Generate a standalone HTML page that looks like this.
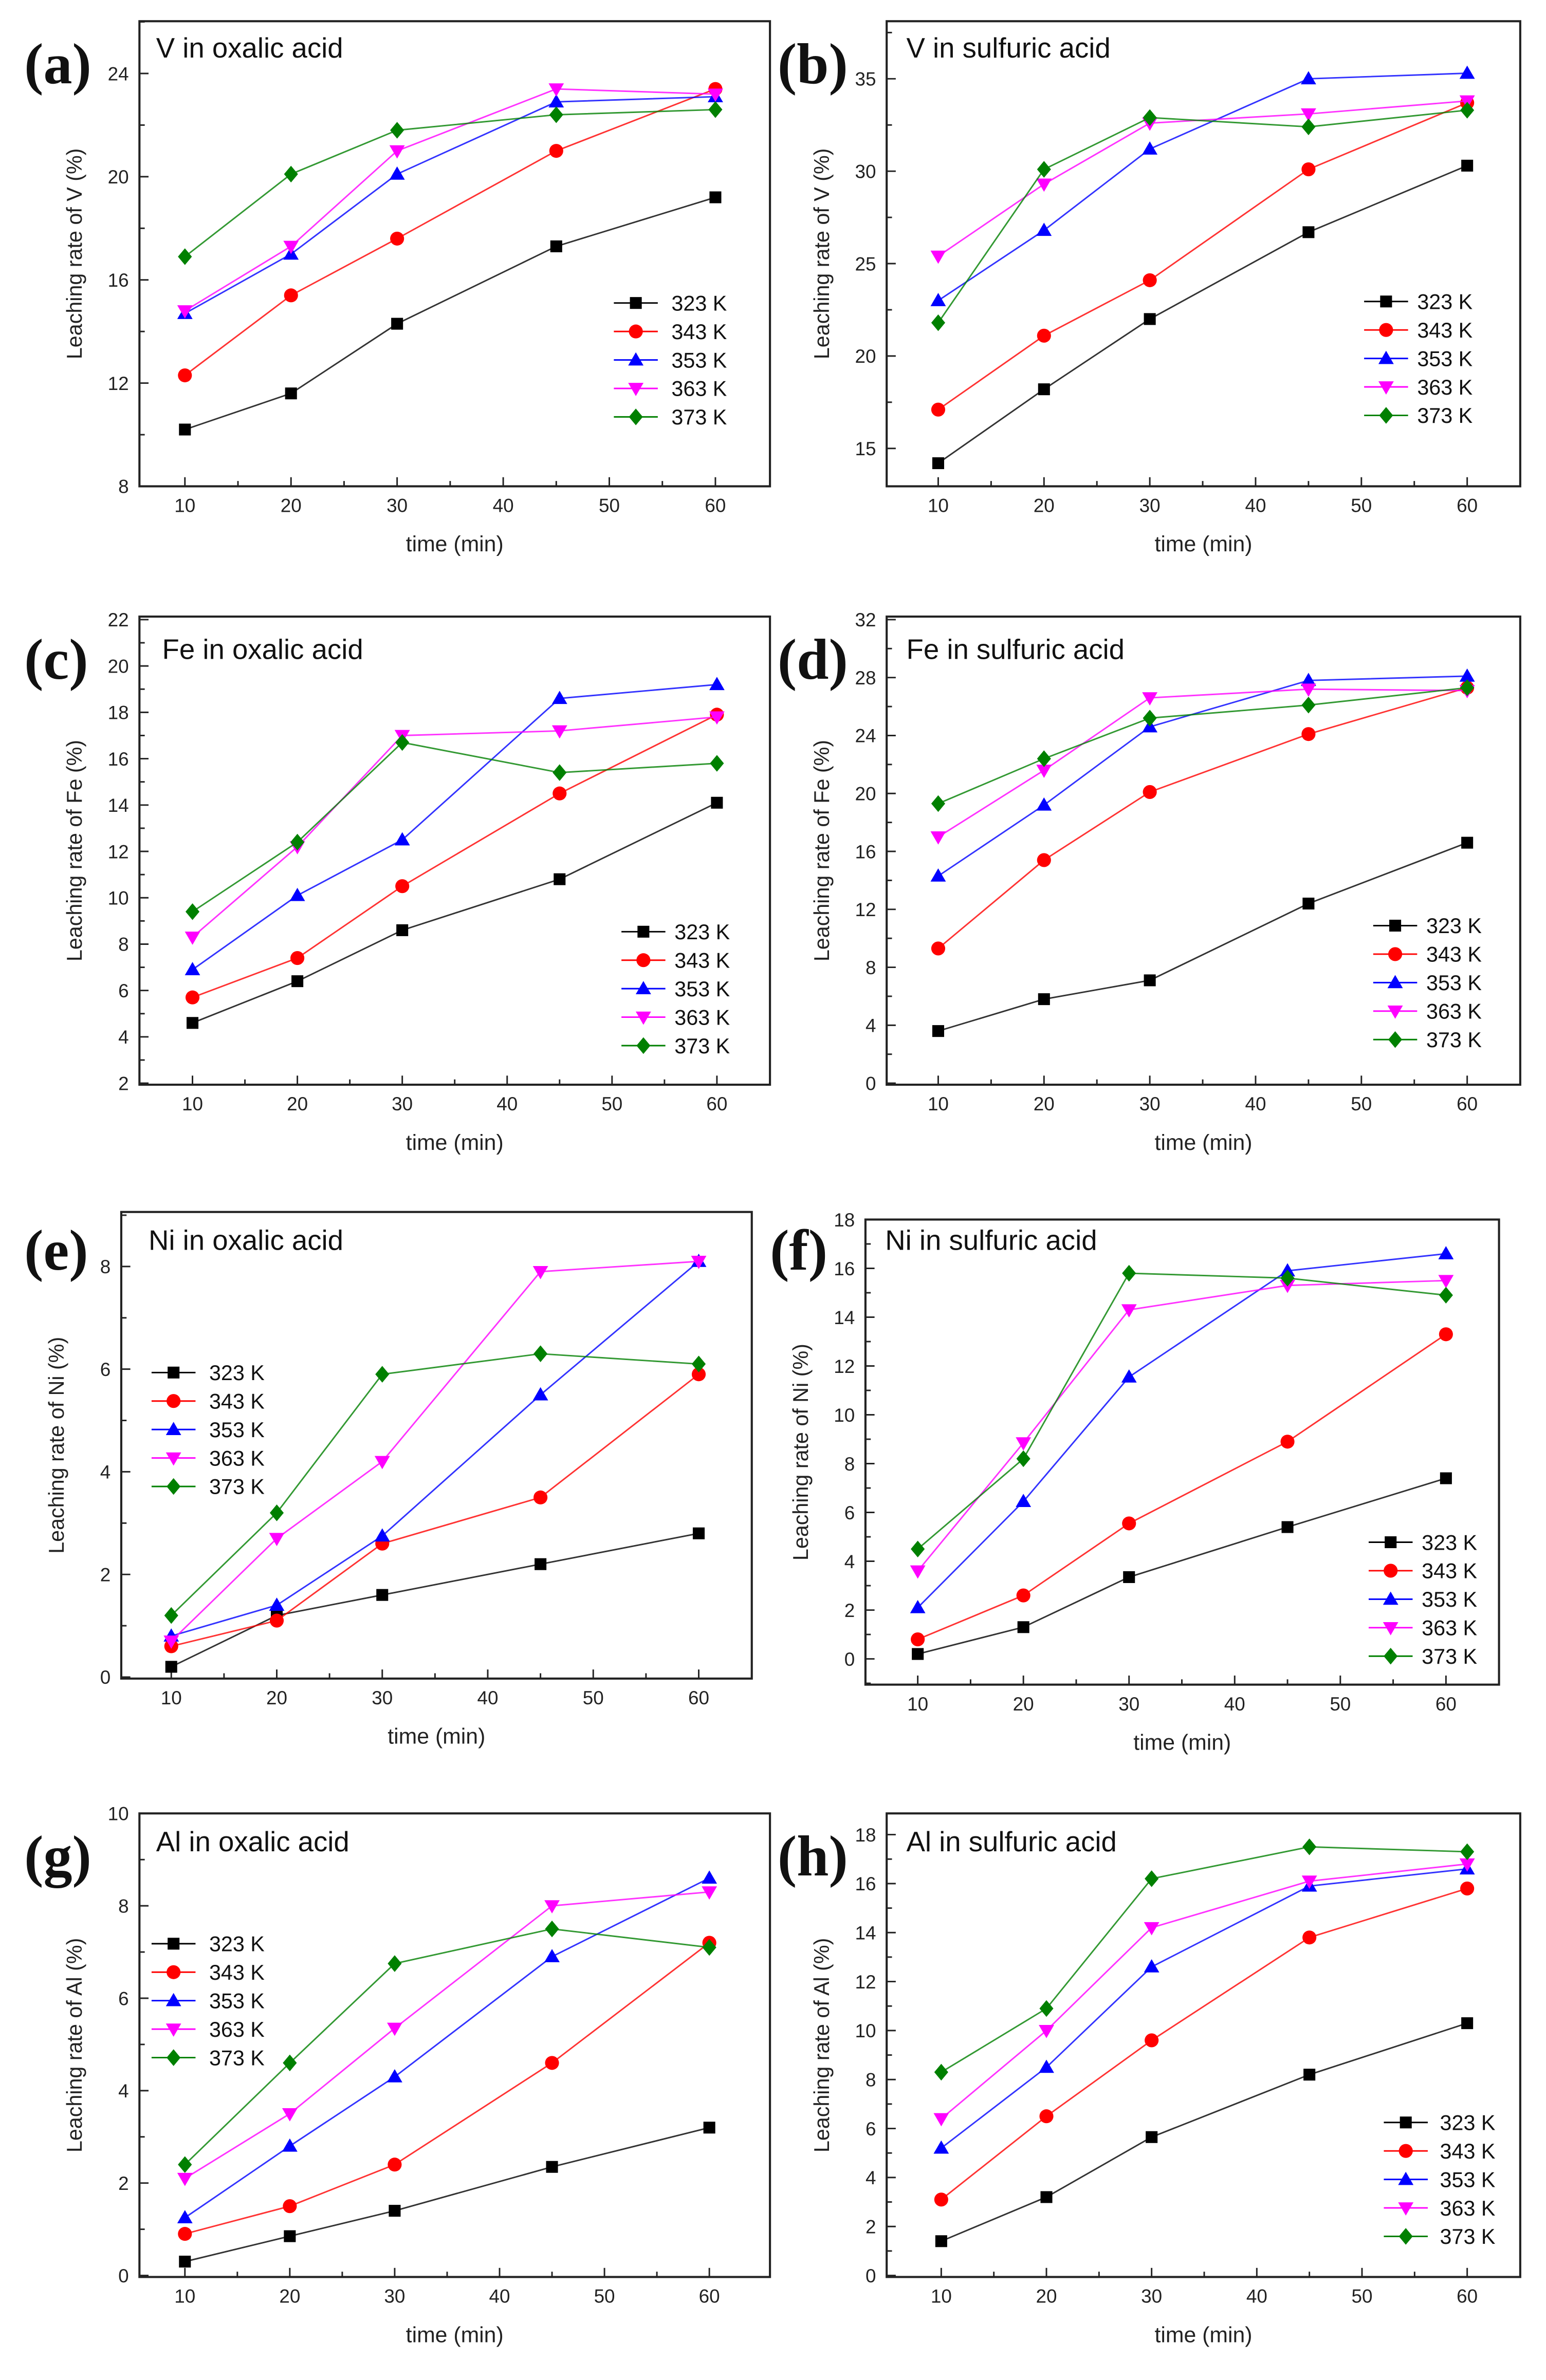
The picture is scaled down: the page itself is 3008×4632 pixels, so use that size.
<!DOCTYPE html>
<html><head><meta charset="utf-8">
<style>
html,body{margin:0;padding:0;background:#fff;}
svg{display:block;}
</style></head>
<body>
<svg id="fig" width="3008" height="4632" viewBox="0 0 1020 1571" preserveAspectRatio="none" xmlns="http://www.w3.org/2000/svg"></svg>
<script>
const times = [10, 20, 30, 45, 60];
const seriesNames = ["323 K", "343 K", "353 K", "363 K", "373 K"];
const colors = ["#000000", "#ff0000", "#0000ff", "#ff00ff", "#008000"];
const markers = ["square", "circle", "up", "down", "diamond"];

const vOx = [[10.2,11.6,14.3,17.3,19.2],[12.3,15.4,17.6,21.0,23.4],[14.7,17.0,20.1,22.9,23.1],[14.8,17.3,21.0,23.4,23.2],[16.9,20.1,21.8,22.4,22.6]];
const vSu = [[14.2,18.2,22.0,26.7,30.3],[17.1,21.1,24.1,30.1,33.7],[23.0,26.8,31.2,35.0,35.3],[25.4,29.3,32.6,33.1,33.8],[21.8,30.1,32.9,32.4,33.3]];
const feOx = [[4.6,6.4,8.6,10.8,14.1],[5.7,7.4,10.5,14.5,17.9],[6.9,10.1,12.5,18.6,19.2],[8.3,12.2,17.0,17.2,17.8],[9.4,12.4,16.7,15.4,15.8]];
const feSu = [[3.6,5.8,7.1,12.4,16.6],[9.3,15.4,20.1,24.1,27.3],[14.3,19.2,24.6,27.8,28.1],[17.0,21.6,26.6,27.2,27.1],[19.3,22.4,25.2,26.1,27.3]];
const niOx = [[0.2,1.2,1.6,2.2,2.8],[0.6,1.1,2.6,3.5,5.9],[0.8,1.4,2.75,5.5,8.1],[0.7,2.7,4.2,7.9,8.1],[1.2,3.2,5.9,6.3,6.1]];
const niSu = [[0.2,1.3,3.35,5.4,7.4],[0.8,2.6,5.55,8.9,13.3],[2.1,6.45,11.55,15.9,16.6],[3.6,8.85,14.3,15.3,15.5],[4.5,8.2,15.8,15.6,14.9]];
const alOx = [[0.3,0.85,1.4,2.35,3.2],[0.9,1.5,2.4,4.6,7.2],[1.25,2.8,4.3,6.9,8.6],[2.1,3.5,5.35,8.0,8.3],[2.4,4.6,6.75,7.5,7.1]];
const alSu = [[1.4,3.2,5.65,8.2,10.3],[3.1,6.5,9.6,13.8,15.8],[5.2,8.5,12.6,15.9,16.6],[6.4,10.0,14.2,16.1,16.8],[8.3,10.9,16.2,17.5,17.3]];

const xTicks = [10, 20, 30, 40, 50, 60];
const ticksA = [8,12,16,20,24];
const ticksB = [15,20,25,30,35];
const ticksC = [2,4,6,8,10,12,14,16,18,20,22];
const ticksD = [0,4,8,12,16,20,24,28,32];
const ticksE = [0,2,4,6,8];
const ticksF = [0,2,4,6,8,10,12,14,16,18];
const ticksG = [0,2,4,6,8,10];
const ticksH = [0,2,4,6,8,10,12,14,16,18];

const NS = "http://www.w3.org/2000/svg";
const svg = document.getElementById("fig");
function mk(tag, attrs, parent) {
  const e = document.createElementNS(NS, tag);
  for (const k in attrs) e.setAttribute(k, attrs[k]);
  (parent || svg).appendChild(e);
  return e;
}

const panels = [
  {id:"a", label:"(a)", title:"V in oxalic acid", el:"V", data:vOx, ticks:ticksA, minorStep:2,
   fx:[92,508], fy:[14,321], x10:122, x60:472, yv:[8,24], yp:[321,48.5], lab:[16,55], tit:[103,38], leg:[405,443,200]},
  {id:"b", label:"(b)", title:"V in sulfuric acid", el:"V", data:vSu, ticks:ticksB, minorStep:2.5,
   fx:[585,1003], fy:[14,321], x10:619, x60:968, yv:[15,35], yp:[296,52], lab:[513,55], tit:[598,38], leg:[900,935,199]},
  {id:"c", label:"(c)", title:"Fe in oxalic acid", el:"Fe", data:feOx, ticks:ticksC, minorStep:1,
   fx:[92,508], fy:[407,716], x10:127, x60:473, yv:[2,22], yp:[715,409], lab:[16,448], tit:[107,435], leg:[410,445,615]},
  {id:"d", label:"(d)", title:"Fe in sulfuric acid", el:"Fe", data:feSu, ticks:ticksD, minorStep:2,
   fx:[585,1003], fy:[407,716], x10:619, x60:968, yv:[0,32], yp:[715,409], lab:[513,448], tit:[598,435], leg:[906,941,611]},
  {id:"e", label:"(e)", title:"Ni in oxalic acid", el:"Ni", data:niOx, ticks:ticksE, minorStep:1,
   fx:[80,496], fy:[800,1108], x10:113, x60:461, yv:[0,8], yp:[1107,836], lab:[16,838], tit:[98,825], leg:[100,138,906]},
  {id:"f", label:"(f)", title:"Ni in sulfuric acid", el:"Ni", data:niSu, ticks:ticksF, minorStep:1,
   fx:[571,989], fy:[805,1112], x10:605.5, x60:954, yv:[0,18], yp:[1095,805], lab:[508,838], tit:[584,825], leg:[903,938,1018]},
  {id:"g", label:"(g)", title:"Al in oxalic acid", el:"Al", data:alOx, ticks:ticksG, minorStep:1,
   fx:[92,508], fy:[1197,1503], x10:122, x60:468, yv:[0,10], yp:[1502,1197], lab:[16,1238], tit:[103,1222], leg:[100,138,1283]},
  {id:"h", label:"(h)", title:"Al in sulfuric acid", el:"Al", data:alSu, ticks:ticksH, minorStep:1,
   fx:[585,1003], fy:[1197,1503], x10:621, x60:968, yv:[0,18], yp:[1502,1211], lab:[513,1238], tit:[598,1222], leg:[913,950,1401]}
];

function marker(g, type, x, y, color) {
  const r = 4.6;
  let e;
  if (type === "square") e = mk("rect", {x:x-r*0.85, y:y-r*0.85, width:r*1.7, height:r*1.7, fill:color}, g);
  else if (type === "circle") e = mk("circle", {cx:x, cy:y, r:r, fill:color}, g);
  else if (type === "up") e = mk("polygon", {points:`${x},${y-r*1.1} ${x-r*1.1},${y+r*0.8} ${x+r*1.1},${y+r*0.8}`, fill:color}, g);
  else if (type === "down") e = mk("polygon", {points:`${x},${y+r*1.1} ${x-r*1.1},${y-r*0.8} ${x+r*1.1},${y-r*0.8}`, fill:color}, g);
  else e = mk("polygon", {points:`${x},${y-r*1.2} ${x+r},${y} ${x},${y+r*1.2} ${x-r},${y}`, fill:color}, g);
  return e;
}

panels.forEach(p => {
  const g = mk("g", {});
  
  
  const sx = v => p.x10 + (v - 10) * (p.x60 - p.x10) / 50;
  const sy = v => p.yp[0] + (v - p.yv[0]) * (p.yp[1] - p.yp[0]) / (p.yv[1] - p.yv[0]);
  const [x0, x1] = p.fx, [y0, y1] = p.fy;

  const frame = mk("rect", {x:x0, y:y0, width:x1-x0, height:y1-y0, fill:"none", stroke:"#222", "stroke-width":1.4}, g);
  
  

  // x ticks
  for (let t = 10; t <= 60; t += 5) {
    const major = t % 10 === 0;
    mk("line", {x1:sx(t), x2:sx(t), y1:y1, y2:y1-(major?6:3.5), stroke:"#222", "stroke-width":1}, g);
  }
  xTicks.forEach(t => {
    const tx = mk("text", {x:sx(t), y:y1+17, "text-anchor":"middle", "font-size":12.5, "font-family":"Liberation Sans, sans-serif", fill:"#222"}, g);
    tx.textContent = t;
    
    
  });
  // y ticks
  const lo = p.ticks[0], hi = p.ticks[p.ticks.length-1];
  for (let v = lo - p.minorStep*4; v <= hi + p.minorStep*4 + 1e-9; v += p.minorStep) {
    const yy = sy(v);
    if (yy < y0 - 0.5 || yy > y1 + 0.5) continue;
    const major = p.ticks.some(t => Math.abs(t - v) < 1e-6);
    mk("line", {x1:x0, x2:x0+(major?6:3.5), y1:yy, y2:yy, stroke:"#222", "stroke-width":1}, g);
  }
  p.ticks.forEach(t => {
    const ty = mk("text", {x:x0-7, y:sy(t)+4.5, "text-anchor":"end", "font-size":12.5, "font-family":"Liberation Sans, sans-serif", fill:"#222"}, g);
    ty.textContent = t;
    
    
  });
  // axis titles
  const xt = mk("text", {x:(x0+x1)/2, y:y1+43, "text-anchor":"middle", "font-size":14.5, "font-family":"Liberation Sans, sans-serif", fill:"#222"}, g);
  xt.textContent = "time (min)";
  
  
  const cy = (y0+y1)/2;
  const yt = mk("text", {x:x0-38, y:cy, "text-anchor":"middle", "font-size":14, "font-family":"Liberation Sans, sans-serif", fill:"#222", transform:`rotate(-90 ${x0-38} ${cy})`}, g);
  yt.textContent = "Leaching rate of " + p.el + " (%)";
  
  

  // labels
  const lb = mk("text", {x:p.lab[0], y:p.lab[1], "font-size":38, "font-weight":"bold", "font-family":"Liberation Serif, serif", fill:"#111"}, g);
  lb.textContent = p.label;
  
  
  const tt = mk("text", {x:p.tit[0], y:p.tit[1], "font-size":18.5, "font-family":"Liberation Sans, sans-serif", fill:"#111"}, g);
  tt.textContent = p.title;
  
  

  // series
  p.data.forEach((vals, si) => {
    const sg = mk("g", {}, g);
    
    
    const pts = vals.map((v, i) => `${sx(times[i])},${sy(v)}`).join(" ");
    mk("polyline", {points:pts, fill:"none", stroke:colors[si], "stroke-width":1, "stroke-opacity":0.8}, sg);
    vals.forEach((v, i) => {
      const m = marker(sg, markers[si], sx(times[i]), sy(v), colors[si]);
      
      
    });
  });

  // legend
  const lg = mk("g", {}, g);
  
  
  seriesNames.forEach((n, si) => {
    const ly = p.leg[2] + si * 18.8;
    const e = mk("g", {}, lg);
    
    
    mk("line", {x1:p.leg[0], x2:p.leg[0]+29, y1:ly, y2:ly, stroke:colors[si], "stroke-width":1}, e);
    marker(e, markers[si], p.leg[0]+14.5, ly, colors[si]);
    const t = mk("text", {x:p.leg[1], y:ly+5, "font-size":14, "font-family":"Liberation Sans, sans-serif", fill:"#111"}, e);
    t.textContent = n;
  });
});
</script>
</body></html>
